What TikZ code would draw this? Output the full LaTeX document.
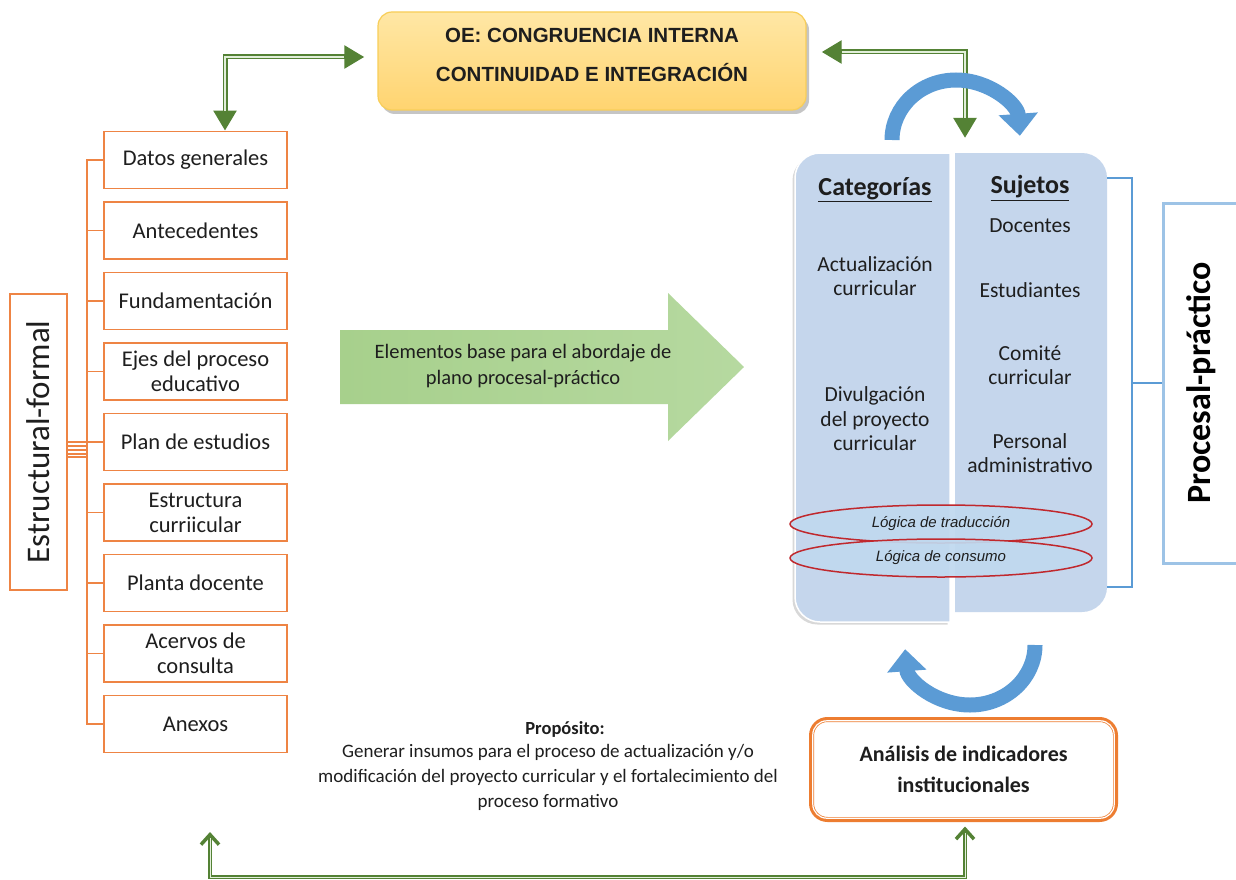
\documentclass[tikz,border=0pt]{standalone}
\usepackage{fontspec}
\setmainfont{Carlito}
\newfontfamily\arialf{Liberation Sans}
\usetikzlibrary{arrows.meta,shapes.geometric,shadows,calc}
\definecolor{oc}{RGB}{238,132,68}
\definecolor{anac}{RGB}{237,125,49}
\definecolor{oefillt}{RGB}{255,231,165}
\definecolor{oefillb}{RGB}{255,212,112}
\definecolor{oeborder}{RGB}{248,206,88}
\definecolor{panelc}{RGB}{197,214,236}
\definecolor{ellfill}{RGB}{192,217,239}
\definecolor{ellred}{RGB}{192,40,45}
\definecolor{bluearr}{RGB}{91,155,213}
\definecolor{procc}{RGB}{157,195,230}
\definecolor{gdark}{RGB}{84,130,53}
\definecolor{glight}{RGB}{226,239,218}
\definecolor{garra}{RGB}{167,208,140}
\definecolor{garrb}{RGB}{182,217,160}
\definecolor{txt}{RGB}{30,30,30}
\tikzset{
  itembox/.style={draw=oc, line width=1.6pt, minimum width=183pt, minimum height=57pt,
    align=center, inner sep=2pt, text=txt, font=\fontsize{22.5}{25}\selectfont},
  leftbox/.style={draw=oc, line width=1.6pt, rotate=90, minimum width=296pt,
    minimum height=57pt, inner sep=0pt, text=txt, font=\fontsize{33}{36}\selectfont},
  oline/.style={draw=oc, line width=1.4pt},
  oebox/.style={rounded corners=14pt, minimum width=428pt, minimum height=98pt,
    top color=oefillt, bottom color=oefillb, draw=oeborder, line width=1.2pt,
    drop shadow={opacity=0.45, shadow xshift=3pt, shadow yshift=-4pt}},
  oetext/.style={align=center, text=txt, font=\arialf\bfseries\fontsize{20.5}{39}\selectfont},
  garrow/.style={draw=gdark, line width=5pt,
    {Triangle[length=20pt,width=22pt]}-{Triangle[length=20pt,width=22pt]}},
  ginner/.style={draw=glight, line width=1.3pt, shorten <=20pt, shorten >=20pt},
  gthin/.style={draw=gdark, line width=3.5pt,
    {Straight Barb[length=10pt,width=18pt]}-{Straight Barb[length=10pt,width=18pt]}},
  gthininner/.style={draw=glight, line width=1pt, shorten <=6pt, shorten >=6pt},
  ptext/.style={align=center, text=txt, font=\fontsize{21.5}{24.5}\selectfont},
  phead/.style={text=txt, font=\bfseries\fontsize{26}{28}\selectfont},
  ellip/.style={ellipse, draw=ellred, line width=1.5pt, fill=ellfill, fill opacity=0.92,
    text opacity=1, minimum width=302pt, minimum height=38pt, inner sep=0pt, text=txt,
    font=\arialf\itshape\fontsize{15}{16}\selectfont},
  brk/.style={draw=bluearr, line width=2pt},
  procbox/.style={draw=procc, line width=3pt, rotate=90, minimum width=360pt,
    minimum height=77pt, inner sep=0pt, text=black, font=\bfseries\fontsize{34}{36}\selectfont},
  barrow/.style={draw=bluearr, line width=15pt, -{Triangle[length=22pt,width=38pt]}},
  anabox/.style={draw=anac, line width=5pt, rounded corners=16pt, minimum width=304pt,
    minimum height=100pt, outer sep=0pt, align=center, text=txt,
    font=\bfseries\fontsize{22}{31}\selectfont},
}
\begin{document}
\begin{tikzpicture}[x=1pt,y=-1pt]
\useasboundingbox (0,0) rectangle (1236,880);
\fill[white] (0,0) rectangle (1236,880);

% OE box
\node[oebox] (oe) at (592,61) {};
\node[oetext] (oet) at (592,54.5) {OE: CONGRUENCIA INTERNA\\CONTINUIDAD E INTEGRACIÓN};

% left structure
\node[leftbox] (estr) at (38.5,442) {Estructural-formal};
\node[itembox] (datos) at (195.5,160) {Datos generales};
\node[itembox] (ante) at (195.5,230.5) {Antecedentes};
\node[itembox] (fund) at (195.5,301) {Fundamentación};
\node[itembox] (ejes) at (195.5,371.5) {Ejes del proceso\\educativo};
\node[itembox] (plan) at (195.5,442) {Plan de estudios};
\node[itembox] (estc) at (195.5,512.5) {Estructura\\curriicular};
\node[itembox] (planta) at (195.5,583) {Planta docente};
\node[itembox] (acerv) at (195.5,653.5) {Acervos de\\consulta};
\node[itembox] (anex) at (195.5,724) {Anexos};

\draw[oline] ([yshift=0pt]estr.south) -- ++(19,0) |- (datos.west);
\draw[oline] ([yshift=-4pt]estr.south) -- ++(19,0) |- (ante.west);
\draw[oline] ([yshift=-8pt]estr.south) -- ++(19,0) |- (fund.west);
\draw[oline] ([yshift=-12pt]estr.south) -- ++(19,0) |- (ejes.west);
\draw[oline] ([yshift=0pt]estr.south) -- ++(19,0) |- (plan.west);
\draw[oline] ([yshift=-4pt]estr.south) -- ++(19,0) |- (estc.west);
\draw[oline] ([yshift=-8pt]estr.south) -- ++(19,0) |- (planta.west);
\draw[oline] ([yshift=-12pt]estr.south) -- ++(19,0) |- (acerv.west);
\draw[oline] ([yshift=-15pt]estr.south) -- ++(19,0) |- (anex.west);

% green arrows top
\draw[garrow] ([xshift=29.5pt]datos.north) |- ([xshift=-13pt,yshift=4pt]oe.west);
\draw[ginner] ([xshift=29.5pt]datos.north) |- ([xshift=-13pt,yshift=4pt]oe.west);
\coordinate (ptop) at (965,138);
\draw[garrow] (ptop) |- ([xshift=15pt,yshift=9pt]oe.east);
\draw[ginner] (ptop) |- ([xshift=15pt,yshift=9pt]oe.east);

% big green arrow
\shade[left color=garra, right color=garrb] (340,330) -- (668,330) -- (668,293) -- (744,367)
  -- (668,441) -- (668,404) -- (340,404) -- cycle;
\node[ptext, font=\fontsize{20.5}{26}\selectfont] (elem) at (523,366)
  {Elementos base para el abordaje de\\plano procesal-práctico};

% right panels
\fill[panelc, draw=white, line width=1.5pt,
  drop shadow={opacity=0.3, shadow xshift=-2.5pt, shadow yshift=-2.5pt}]
  (950,153) -- (820,153) arc[start angle=90, end angle=180, radius=25pt]
  -- (795,597) arc[start angle=180, end angle=270, radius=25pt] -- (950,622) -- cycle;
\fill[panelc] (955,153) -- (1082,153) arc[start angle=90, end angle=0, radius=25pt]
  -- (1107,587) arc[start angle=0, end angle=-90, radius=25pt] -- (955,612) -- cycle;

\node[phead] (cat) at (875,190) {\underline{Categorías}};
\node[phead] (suj) at (1030,188) {\underline{Sujetos}};
\node[ptext] (act) at (875,276) {Actualización\\curricular};
\node[ptext] (div) at (875,419) {Divulgación\\del proyecto\\curricular};
\node[ptext] (doc) at (1030,226) {Docentes};
\node[ptext] (est) at (1030,290) {Estudiantes};
\node[ptext] (com) at (1030,365) {Comité\\curricular};
\node[ptext] (per) at (1030,453) {Personal\\administrativo};

\node[ellip] (lt) at (941,524) {Lógica de traducción};
\node[ellip] (lc) at (941,558) {Lógica de consumo};

% bracket and Procesal-practico box
\coordinate (bt) at (1107,178);
\coordinate (bb) at (1107,587);
\draw[brk] (bt) -- (1132,178) -- (1132,587) -- (bb);
\node[procbox] (proc) at (1201.5,383) {Procesal-práctico};
\draw[brk] (proc.north) -- (1132,383);

% blue cycle arrows
\draw[barrow] (892,140) arc[start angle=180, end angle=4, x radius=64pt, y radius=60pt];
\draw[barrow] (1035,645) arc[start angle=0, end angle=-176, x radius=65pt, y radius=60pt];

% Analisis box
\node[anabox] (ana) at (963.5,769.5) {Análisis de indicadores\\institucionales};
\draw[white, line width=1.2pt, rounded corners=14pt]
  ($(ana.north west)+(1.3,1.3)$) rectangle ($(ana.south east)+(-1.3,-1.3)$);

% purpose
\node[text=txt, font=\bfseries\fontsize{18.5}{25}\selectfont] (propt) at (565,729) {Propósito:};
\node[text=txt, align=center, font=\fontsize{19}{25}\selectfont] (prop) at (548,777)
  {Generar insumos para el proceso de actualización y/o\\modificación del proyecto curricular y el fortalecimiento del\\proceso formativo};

% bottom green arrow
\coordinate (bl) at (210,832);
\draw[gthin] (bl) -- (210,877) -| ([xshift=1.5pt,yshift=-7pt]ana.south);
\draw[gthininner] (bl) -- (210,877) -| ([xshift=1.5pt,yshift=-7pt]ana.south);
\end{tikzpicture}
\end{document}
